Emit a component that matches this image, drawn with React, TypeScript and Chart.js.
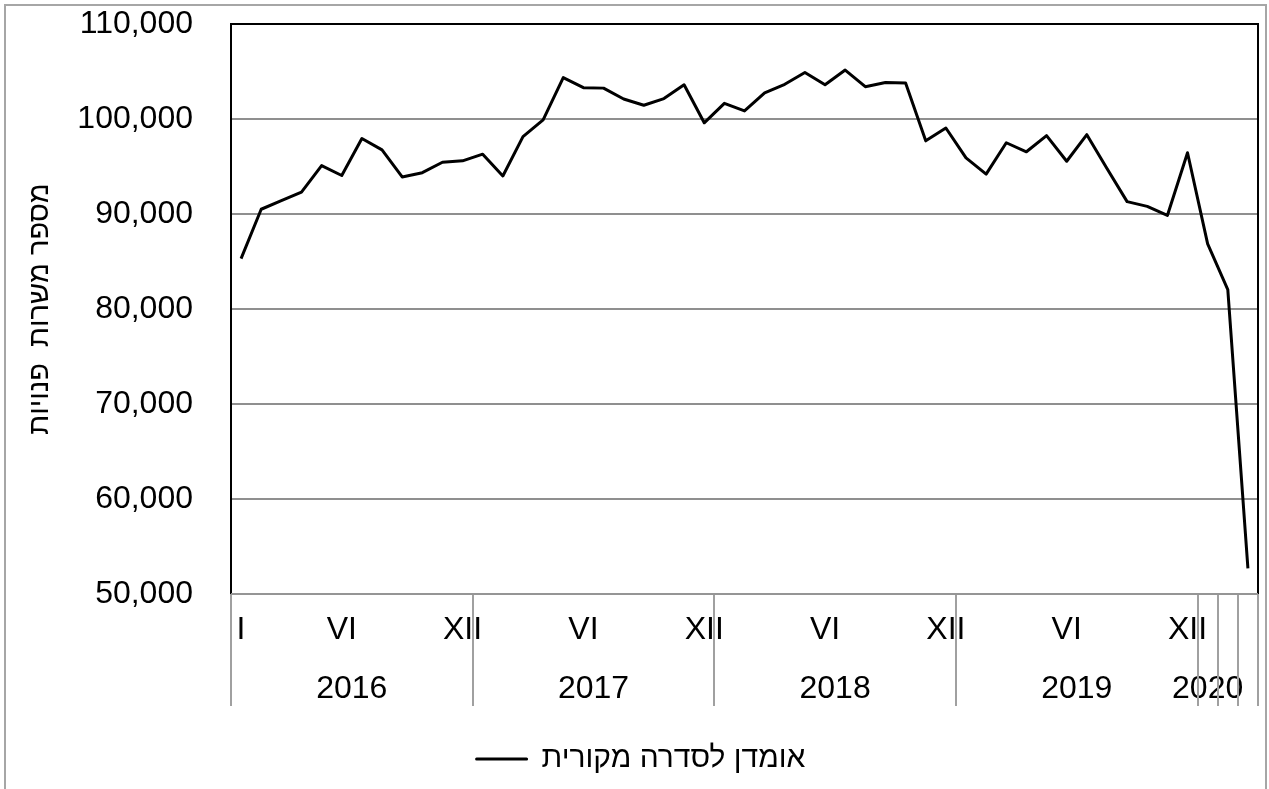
import React, { useEffect, useRef } from 'react';
import { Chart, registerables } from 'chart.js';

Chart.register(...registerables);

// ---- data ----
const years = ['2016', '2017', '2018', '2019', '2020'];
const monthsPerYear = [12, 12, 12, 12, 3];
const monthLabels = [
  'I', '', '', '', '', 'VI', '', '', '', '', '', 'XII',
  '', '', '', '', '', 'VI', '', '', '', '', '', 'XII',
  '', '', '', '', '', 'VI', '', '', '', '', '', 'XII',
  '', '', '', '', '', 'VI', '', '', '', '', '', 'XII',
  '', '', '',
];
const vacancies = [
  85300, 90500, 91400, 92300, 95100, 94050, 97950, 96750, 93900, 94350, 95450, 95600,
  96300, 94000, 98150, 99900, 104350, 103300, 103250, 102100, 101450, 102150, 103600, 99600,
  101650, 100850, 102750, 103650, 104900, 103600, 105150, 103400, 103850, 103800, 97700, 99050,
  95900, 94200, 97500, 96550, 98250, 95550, 98350, 94800, 91300, 90800, 89850, 96450,
  86850, 82050, 52700,
];
const yMin = 50000;
const yMax = 110000;
const yStep = 10000;
const seriesLabel = 'אומדן לסדרה מקורית';
const yTitle = 'מספר משרות  פנויות';

const FONT = '"Liberation Sans", Arial, sans-serif';

// derived: year label centres and separator boundaries (in category index units)
const yearCenters: number[] = [];
const boundaries: number[] = [-0.5];
{
  let s = 0;
  monthsPerYear.forEach((n) => {
    yearCenters.push(n < 12 ? s : s + (n - 1) / 2);
    if (n < 12) {
      for (let k = 1; k < n; k++) boundaries.push(s + k - 0.5);
    }
    s += n;
    boundaries.push(s - 0.5);
  });
}
const lastIndex = vacancies.length - 1;

const framePlugin = {
  id: 'excelFrame',
  afterLayout(chart: any) {
    // nudge the legend slightly right, as in the original
    if (chart.legend) {
      chart.legend.left += 12;
      chart.legend.right += 12;
    }
  },
  afterDraw(chart: any) {
    const { ctx, chartArea } = chart;
    const xs = chart.scales.x2;
    const { left, right, top, bottom } = chartArea;
    ctx.save();
    // category separators below the axis
    ctx.strokeStyle = '#a0a0a0';
    ctx.lineWidth = 2;
    boundaries.forEach((b) => {
      const px = Math.round(xs.getPixelForValue(b));
      ctx.beginPath();
      ctx.moveTo(px, bottom);
      ctx.lineTo(px, bottom + 112);
      ctx.stroke();
    });
    // plot area frame
    ctx.strokeStyle = '#000';
    ctx.lineWidth = 2;
    ctx.beginPath();
    ctx.moveTo(left, bottom);
    ctx.lineTo(left, top);
    ctx.lineTo(right, top);
    ctx.lineTo(right, bottom);
    ctx.stroke();
    // category axis line
    ctx.strokeStyle = '#959595';
    ctx.lineWidth = 2;
    ctx.beginPath();
    ctx.moveTo(left, bottom);
    ctx.lineTo(right, bottom);
    ctx.stroke();
    ctx.restore();
  },
};

export default function App() {
  const ref = useRef<HTMLCanvasElement>(null);

  useEffect(() => {
    const chart = new Chart(ref.current as HTMLCanvasElement, {
      type: 'line',
      data: {
        labels: monthLabels,
        datasets: [
          {
            label: seriesLabel,
            data: vacancies,
            borderColor: '#000',
            backgroundColor: '#000',
            borderWidth: 3,
            pointRadius: 0,
            pointHoverRadius: 0,
            tension: 0,
            borderJoinStyle: 'round',
            fill: false,
          },
        ],
      },
      options: {
        responsive: false,
        animation: false,
        devicePixelRatio: 1,
        layout: { padding: { left: 0, right: 11, top: 24, bottom: 5 } },
        plugins: {
          legend: {
            position: 'bottom',
            labels: {
              font: { family: FONT, size: 30 },
              color: '#000',
              boxWidth: 50,
              boxHeight: 0,
              padding: 5,
            },
          },
          tooltip: { enabled: false },
        },
        scales: {
          x: {
            type: 'category',
            offset: true,
            grid: { display: false },
            border: { display: false },
            ticks: {
              autoSkip: false,
              maxRotation: 0,
              minRotation: 0,
              padding: 9,
              color: '#000',
              font: { family: FONT, size: 32 },
            },
            afterFit: (s: any) => {
              s.height = 55;
            },
          },
          x2: {
            type: 'linear',
            position: 'bottom',
            weight: 1,
            min: -0.5,
            max: lastIndex + 0.5,
            grid: { display: false },
            border: { display: false },
            afterBuildTicks: (s: any) => {
              s.ticks = yearCenters.map((v) => ({ value: v }));
            },
            ticks: {
              autoSkip: false,
              maxRotation: 0,
              minRotation: 0,
              padding: 13,
              color: '#000',
              font: { family: FONT, size: 32 },
              callback: (_v: any, i: number) => years[i],
            },
            afterFit: (s: any) => {
              s.height = 90;
            },
          },
          y: {
            min: yMin,
            max: yMax,
            ticks: {
              stepSize: yStep,
              padding: 0,
              color: '#000',
              font: { family: FONT, size: 32 },
              callback: (v: any) => Number(v).toLocaleString('en-US'),
            },
            grid: {
              color: '#8f8f8f',
              lineWidth: 2,
              drawTicks: true,
              tickLength: 38,
              tickColor: 'rgba(0,0,0,0)',
            },
            border: { display: false },
            title: {
              display: true,
              text: yTitle,
              color: '#000',
              font: { family: FONT, size: 29 },
              padding: { top: 23, bottom: 0 },
            },
            afterFit: (s: any) => {
              s.width = 231;
            },
          },
        },
      } as any,
      plugins: [framePlugin],
    });
    return () => chart.destroy();
  }, []);

  return (
    <div
      style={{
        position: 'fixed',
        left: 0,
        top: 0,
        width: 1269,
        height: 789,
        background: '#fff',
        overflow: 'hidden',
      }}
    >
      <canvas
        ref={ref}
        width={1269}
        height={789}
        style={{ display: 'block', width: 1269, height: 789 }}
      />
      <div
        style={{
          position: 'absolute',
          left: 4,
          top: 4,
          width: 1263,
          height: 820,
          border: '2px solid #a6a6a6',
          boxSizing: 'border-box',
          pointerEvents: 'none',
        }}
      />
    </div>
  );
}
